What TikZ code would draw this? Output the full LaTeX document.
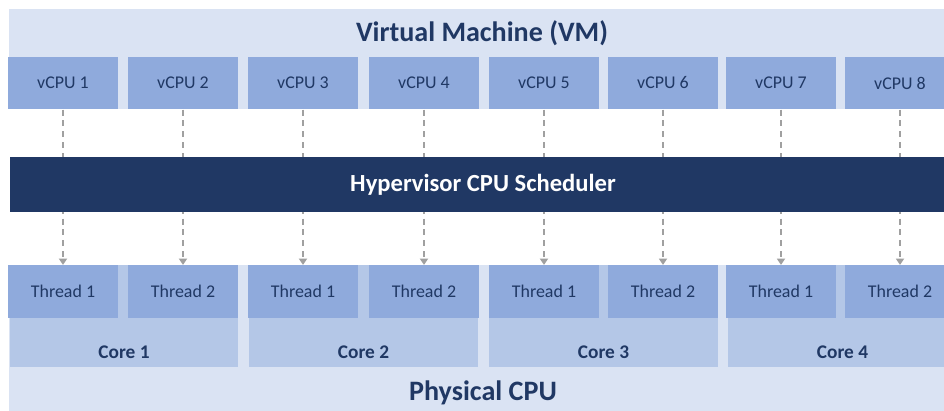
\documentclass[tikz,border=0pt]{standalone}
\usepackage{fontspec}
\setmainfont{Carlito}
\usetikzlibrary{arrows.meta}
\definecolor{panelblue}{RGB}{218,227,243}
\definecolor{unitblue}{RGB}{143,170,220}
\definecolor{coreblue}{RGB}{180,199,231}
\definecolor{navytext}{RGB}{32,56,100}
\definecolor{mapgrey}{RGB}{160,160,160}

\begin{document}
\begin{tikzpicture}[
    x=0.02cm,
    y=-0.02cm,
    back panel/.style={
      rectangle,
      fill=panelblue,
      inner sep=0pt,
      minimum width=18.96cm
    },
    panel title/.style={
      text=navytext,
      font=\fontsize{16}{19}\selectfont\bfseries
    },
    unit box/.style={
      rectangle,
      fill=unitblue,
      text=navytext,
      inner sep=0pt,
      minimum width=2.2cm,
      minimum height=1.05cm,
      font=\fontsize{10.2}{12}\selectfont
    },
    core box/.style={
      rectangle,
      fill=coreblue,
      inner sep=0pt,
      minimum width=4.58cm,
      minimum height=2.04cm
    },
    core title/.style={
      text=navytext,
      font=\fontsize{11}{13}\selectfont\bfseries
    },
    sched bar/.style={
      rectangle,
      fill=navytext,
      text=white,
      inner sep=0pt,
      minimum width=18.92cm,
      minimum height=1.1cm,
      font=\fontsize{14}{17}\selectfont\bfseries
    },
    map arrow/.style={
      mapgrey,
      line width=0.85pt,
      dash pattern=on 3.4pt off 2.8pt,
      -{Triangle[length=3.6pt,width=4.6pt]}
    }
]
\useasboundingbox (0,0) rectangle (944,410);

% Virtual machine with its eight vCPUs.
\node[back panel,minimum height=2cm] (vm) at (483,59) {};
\node[panel title] (vm title) at (482,33) {Virtual Machine (VM)};
\foreach \i/\x in {1/63,2/183,3/303,4/424,5/544,6/663,7/781,8/900}
  \node[unit box] (v\i) at (\x,83) {vCPU \i};

% Physical CPU: four cores with two threads each.
\node[back panel,minimum height=3.1cm] (pcpu) at (483,342.5) {};
\node[panel title] (pcpu title) at (483,393) {Physical CPU};
\foreach \k/\x in {1/124,2/363.5,3/603.5,4/842.5}{
  \node[core box] (core\k) at (\x,316) {};
  \node[core title] at (\x,352) {Core \k};
}
\foreach \i/\x/\lab in {1/63/1,2/183/2,3/303/1,4/424/2,5/544/1,6/663/2,7/781/1,8/900/2}
  \node[unit box] (t\i) at (\x,291.5) {Thread \lab};

% vCPU to thread mapping, passing under the scheduler.
\foreach \i in {1,...,8}
  \draw[map arrow] (v\i.south) -- (t\i.north);

\node[sched bar] (sched) at (483,184.5) {Hypervisor CPU Scheduler};

\end{tikzpicture}
\end{document}
